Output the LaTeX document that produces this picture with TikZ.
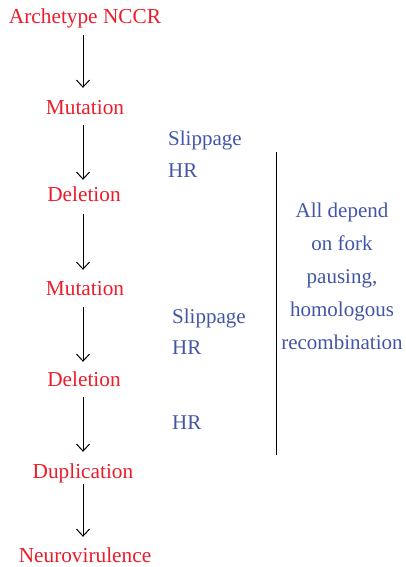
\documentclass[tikz,border=0pt]{standalone}
\usepackage{fontspec}
\setmainfont{Liberation Serif}
\usetikzlibrary{arrows.meta}
\definecolor{stepred}{HTML}{EC1C2A}
\definecolor{noteblue}{HTML}{4356A6}
\begin{document}
\begin{tikzpicture}[x=1pt,y=-1pt,
  stage/.style={text=stepred,font=\fontsize{21.3}{24}\selectfont,inner sep=0pt,text height=15pt,text depth=5pt,anchor=base},
  note/.style={text=noteblue,font=\fontsize{21}{24}\selectfont,inner sep=0pt,anchor=base west},
  side/.style={text=noteblue,font=\fontsize{21}{24}\selectfont,inner sep=0pt,anchor=base},
  flow/.style={draw=black,line width=1pt,-{Straight Barb[length=7pt,width=13pt,line width=1pt]}}]
\useasboundingbox (0,0) rectangle (406,567);
\node[stage] (a) at (85,24) {Archetype NCCR};
\node[stage] (m1) at (85,115) {Mutation};
\node[stage] (d1) at (84,201) {Deletion};
\node[stage] (m2) at (85,295) {Mutation};
\node[stage] (d2) at (84,386) {Deletion};
\node[stage] (dup) at (83,478) {Duplication};
\node[stage] (n) at (85,562) {Neurovirulence};
\draw[flow,shorten <=6pt,shorten >=12pt] (a.south -| 83,0) -- (m1.north -| 83,0);
\draw[flow,shorten <=5pt,shorten >=6pt] (m1.south -| 83,0) -- (d1.north -| 83,0);
\draw[flow,shorten <=8pt,shorten >=10pt] (d1.south -| 83,0) -- (m2.north -| 83,0);
\draw[flow,shorten <=7pt,shorten >=9pt] (m2.south -| 83,0) -- (d2.north -| 83,0);
\draw[flow,shorten <=6pt,shorten >=11pt] (d2.south -| 83,0) -- (dup.north -| 83,0);
\draw[flow,shorten <=1pt,shorten >=10pt] (dup.south -| 83,0) -- (n.north -| 83,0);
\node[note] (s1) at (168,145) {Slippage};
\node[note] (h1) at (168,177) {HR};
\node[note] (s2) at (172,323) {Slippage};
\node[note] (h2) at (172,354) {HR};
\node[note] (h3) at (172,429) {HR};
\coordinate (top) at (276,152);
\coordinate (bot) at (276,455);
\draw[line width=1pt] (top) -- (bot);
\node[side] (t1) at (342,217) {All depend};
\node[side] (t2) at (342,250) {on fork};
\node[side] (t3) at (342,283) {pausing,};
\node[side] (t4) at (342,316) {homologous};
\node[side] (t5) at (342,349) {recombination};
\end{tikzpicture}
\end{document}
